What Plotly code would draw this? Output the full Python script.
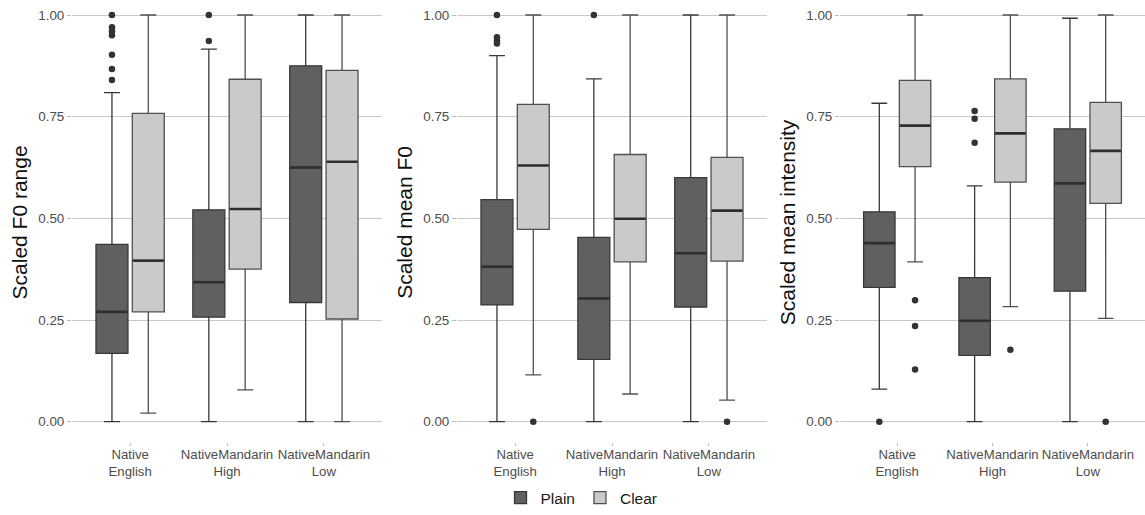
import plotly.graph_objects as go

W, H = 1145, 515

groups = ["Native<br>English", "NativeMandarin<br>High", "NativeMandarin<br>Low"]
conditions = ["Plain", "Clear"]
y_titles = ["Scaled F0 range", "Scaled mean F0", "Scaled mean intensity"]
y_ticks = [0.0, 0.25, 0.5, 0.75, 1.0]
y_ticklabels = ["0.00", "0.25", "0.50", "0.75", "1.00"]

# Box statistics per panel: [Plain(NE, NMH, NML), Clear(NE, NMH, NML)]
# Panel 1: Scaled F0 range
f0range_lower = [[0.0, 0.0, 0.0], [0.021, 0.078, 0.0]]
f0range_q1 = [[0.168, 0.257, 0.293], [0.270, 0.375, 0.2525]]
f0range_median = [[0.270, 0.343, 0.625], [0.396, 0.523, 0.639]]
f0range_q3 = [[0.436, 0.521, 0.875], [0.758, 0.842, 0.864]]
f0range_upper = [[0.809, 0.916, 1.0], [1.0, 1.0, 1.0]]
f0range_outliers = [[[1.0, 0.97, 0.96, 0.95, 0.902, 0.867, 0.840], [1.0, 0.936], []],
                    [[], [], []]]

# Panel 2: Scaled mean F0
meanf0_lower = [[0.0, 0.0, 0.0], [0.115, 0.068, 0.053]]
meanf0_q1 = [[0.287, 0.153, 0.282], [0.473, 0.393, 0.395]]
meanf0_median = [[0.381, 0.303, 0.414], [0.630, 0.499, 0.519]]
meanf0_q3 = [[0.546, 0.453, 0.600], [0.780, 0.657, 0.650]]
meanf0_upper = [[0.900, 0.843, 1.0], [1.0, 1.0, 1.0]]
meanf0_outliers = [[[1.0, 0.945, 0.937, 0.930], [1.0], []],
                   [[0.0], [], [0.0]]]

# Panel 3: Scaled mean intensity
intensity_lower = [[0.080, 0.0, 0.0], [0.393, 0.283, 0.254]]
intensity_q1 = [[0.330, 0.163, 0.321], [0.627, 0.589, 0.537]]
intensity_median = [[0.439, 0.248, 0.586], [0.728, 0.709, 0.666]]
intensity_q3 = [[0.516, 0.354, 0.720], [0.839, 0.843, 0.785]]
intensity_upper = [[0.783, 0.580, 0.992], [1.0, 1.0, 1.0]]
intensity_outliers = [[[0.0], [0.764, 0.745, 0.686], []],
                      [[0.2985, 0.235, 0.128], [0.177], [0.0]]]

panels = [
    (f0range_lower, f0range_q1, f0range_median, f0range_q3, f0range_upper, f0range_outliers),
    (meanf0_lower, meanf0_q1, meanf0_median, meanf0_q3, meanf0_upper, meanf0_outliers),
    (intensity_lower, intensity_q1, intensity_median, intensity_q3, intensity_upper, intensity_outliers),
]

fills = {"Plain": "#606060", "Clear": "#cacaca"}
edges = {"Plain": "#383838", "Clear": "#505050"}
offsets = {"Plain": -0.1875, "Clear": 0.1875}
box_w = 0.33

# panel pixel extents (left, right)
px_domains = [(72, 382), (457, 767), (840, 1145)]
y_dom = [(H - 442.0) / H, (H - 2.8) / H]

fig = go.Figure()
for p, (lo, q1, med, q3, up, outl) in enumerate(panels):
    xa = "x" if p == 0 else f"x{p+1}"
    ya = "y" if p == 0 else f"y{p+1}"
    for ci, cond in enumerate(conditions):
        xs = [g + 1 + offsets[cond] for g in range(len(groups))]
        fig.add_trace(go.Box(
            x=xs, q1=q1[ci], median=med[ci], q3=q3[ci],
            lowerfence=lo[ci], upperfence=up[ci],
            width=box_w, fillcolor=fills[cond],
            line=dict(color=edges[cond], width=1.3),
            name=cond, legendgroup=cond, showlegend=(p == 0),
            boxpoints=False, hoverinfo="skip",
            xaxis=xa, yaxis=ya,
        ))
        # thicker median lines (ggplot fatten)
        mx, my = [], []
        for g in range(len(groups)):
            mx += [xs[g] - box_w / 2 + 0.005, xs[g] + box_w / 2 - 0.005, None]
            my += [med[ci][g], med[ci][g], None]
        fig.add_trace(go.Scatter(
            x=mx, y=my, mode="lines", line=dict(color="#2e2e2e", width=2.6),
            showlegend=False, hoverinfo="skip", xaxis=xa, yaxis=ya,
        ))
        ox, oy = [], []
        for g in range(len(groups)):
            for v in outl[ci][g]:
                ox.append(xs[g])
                oy.append(v)
        if ox:
            fig.add_trace(go.Scatter(
                x=ox, y=oy, mode="markers",
                marker=dict(color="#333333", size=6.5),
                showlegend=False, hoverinfo="skip", xaxis=xa, yaxis=ya,
            ))

layout = dict(
    width=W, height=H,
    margin=dict(l=0, r=0, t=0, b=0),
    paper_bgcolor="white", plot_bgcolor="white",
    font=dict(family="Liberation Sans, Arial, sans-serif", size=13, color="#4d4d4d"),
    showlegend=True,
    legend=dict(orientation="h", x=0.5 + 9 / W, xanchor="center", y=0, yanchor="bottom",
                bgcolor="rgba(0,0,0,0)",
                font=dict(size=15.5, color="#1a1a1a"), itemwidth=30, traceorder="normal"),
)
for p in range(3):
    suffix = "" if p == 0 else str(p + 1)
    l, r = px_domains[p]
    layout["xaxis" + suffix] = dict(
        domain=[l / W, r / W], range=[0.4, 3.6],
        tickvals=[1, 2, 3], ticktext=groups, tickangle=0, automargin=False,
        ticks="outside", ticklen=3, tickcolor="#bbbbbb", ticklabelstandoff=-3,
        showgrid=False, zeroline=False, showline=False,
        tickfont=dict(size=13.2, color="#4d4d4d"),
        anchor="y" + suffix,
    )
    layout["yaxis" + suffix] = dict(
        domain=y_dom, range=[-0.05, 1.03], automargin=False,
        tickvals=y_ticks, ticktext=y_ticklabels,
        ticks="outside", ticklen=4, tickcolor="#bbbbbb",
        showgrid=True, gridcolor="#c8c8c8", gridwidth=1,
        zeroline=False, showline=False,
        tickfont=dict(size=13.4, color="#4d4d4d"),
        title=dict(text=y_titles[p], font=dict(size=21, color="#111111"), standoff=4),
        anchor="x" + suffix,
    )
fig.update_layout(**layout)

fig.write_html("out.html")
